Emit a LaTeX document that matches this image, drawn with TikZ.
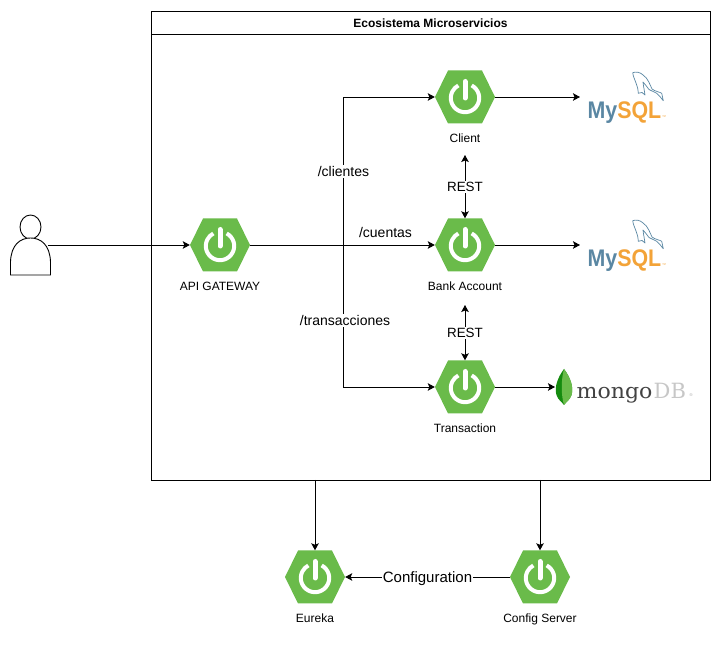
\documentclass[tikz,border=0pt]{standalone}
\usepackage{fontspec}
\setmainfont{Liberation Sans}
\newfontfamily\mongofont{DejaVu Serif}
\usetikzlibrary{arrows.meta,shapes.geometric}
\definecolor{springgreen}{HTML}{6ABB4A}
\definecolor{mysqlblue}{HTML}{5A87A3}
\definecolor{mysqlorange}{HTML}{F3A338}
\tikzset{
  x=1pt,y=1pt,
  conn/.style={draw=black,line width=0.9pt,-{Stealth[length=7pt,width=7.5pt,inset=1.5pt]}},
  biconn/.style={draw=black,line width=0.9pt,{Stealth[length=7pt,width=7.5pt,inset=1.5pt]}-{Stealth[length=7pt,width=7.5pt,inset=1.5pt]}},
  plain/.style={draw=black,line width=0.9pt},
  springbox/.style={rectangle,minimum width=60pt,minimum height=53pt,inner sep=0pt},
  lbl/.style={font=\fontsize{12}{14}\selectfont,anchor=base,inner sep=1pt},
  edgelbl/.style={font=\fontsize{14}{16}\selectfont,fill=white,inner sep=1pt},
  edgelblclear/.style={font=\fontsize{14}{16}\selectfont,inner sep=1pt},
  restlbl/.style={font=\fontsize{13.4}{15}\selectfont,fill=white,inner sep=1pt},
}
% name, x, y, label
\newcommand{\springnode}[4]{%
  \node[springbox] (#1) at (#2,#3) {};
  \fill[springgreen] (#2-30,#3) -- (#2-17,#3+26.5) -- (#2+17,#3+26.5) -- (#2+30,#3) -- (#2+17,#3-26.5) -- (#2-17,#3-26.5) -- cycle;
  \draw[white,line width=4pt] ([shift={(62:14.2pt)}]#2,#3-1) arc[start angle=62,end angle=-242,radius=14.2pt];
  \draw[white,line width=5pt,line cap=round] (#2,#3+15.5) -- (#2,#3-1);
  \node[lbl] (#1-lbl) at (#2,#3-46) {#4};
}
% logo macros: x,y is the arrow end
\newcommand{\mysqllogo}[2]{%
  \begin{scope}[shift={(#1,#2)}]
    \draw[mysqlblue,line width=0.7pt,line join=round,fill=white]
      (52.7,24.3) .. controls (56,25.5) and (60,25) .. (63,22)
      .. controls (68,19) and (70,12) .. (72,8)
      .. controls (75,5.5) and (80,5) .. (81.7,3.7)
      -- (83.3,-3.7) .. controls (81,-1) and (79,2) .. (76.7,3.7)
      .. controls (74,5.5) and (71,6) .. (69,7.5)
      .. controls (67,10) and (65,13) .. (63,15)
      .. controls (63.5,10) and (64.5,6) .. (65,2)
      -- (62,4.5) -- (58.3,3.7) .. controls (58,8) and (57.5,10) .. (56.7,12)
      .. controls (55,17) and (53,21) .. (52.7,24.3) -- cycle;
    \node[anchor=base west,inner sep=0pt,font=\bfseries\fontsize{24}{26}\selectfont,xscale=0.89] at (7.5,-22)
      {\textcolor{mysqlblue}{My}\textcolor{mysqlorange}{SQL}};
    \node[anchor=base west,inner sep=0pt,font=\fontsize{4}{4}\selectfont,text=mysqlorange] at (82,-22) {™};
  \end{scope}}
\begin{document}
\begin{tikzpicture}
\useasboundingbox (0,0) rectangle (721,645);
\fill[white] (0,0) rectangle (721,645);

% container
\node[draw=black,line width=0.9pt,minimum width=559pt,minimum height=469pt,inner sep=0pt] (eco) at (430.5,399.5) {};
\coordinate (titleL) at (151,611);
\coordinate (titleR) at (710,611);
\draw[plain] (titleL) -- (titleR);
\node[font=\bfseries\fontsize{12}{14}\selectfont,inner sep=0pt] (ecotitle) at (430.5,622) {Ecosistema Microservicios};

% user
\node[draw=black,line width=0.9pt,ellipse,minimum width=21pt,minimum height=24pt,inner sep=0pt] (userhead) at (30.5,418) {};
\draw[plain,fill=white] (10.5,370) -- (10.5,383) .. controls (11,400) and (20,407) .. (30.5,407)
  .. controls (41,407) and (50,400) .. (50.5,383) -- (50.5,370) -- cycle;
\coordinate (user) at (48,400);

% spring nodes
\springnode{api}{220}{400}{API GATEWAY}
\springnode{client}{465}{548}{Client}
\springnode{bank}{465}{400}{Bank Account}
\springnode{trans}{465}{258}{Transaction}
\springnode{eureka}{315}{68}{Eureka}
\springnode{config}{540}{68}{Config Server}

% logos
\coordinate (mysqlA) at (580,548);
\coordinate (mysqlB) at (580,400);
\coordinate (mongo) at (555,258);
\mysqllogo{580}{548}
\mysqllogo{580}{400}
\fill[green!50!black!80!springgreen] (564,276) .. controls (570,268) and (574,258) .. (571.5,250)
  .. controls (570,245) and (566,243) .. (564,240)
  .. controls (562,243) and (558,245) .. (556.5,250)
  .. controls (554,258) and (558,268) .. (564,276) -- cycle;
\fill[springgreen] (564,276) .. controls (570,268) and (574,258) .. (571.5,250)
  .. controls (570,245) and (566,243) .. (564,240)
  .. controls (561,250) and (561,265) .. (564,276) -- cycle;
\node[anchor=base west,inner sep=0pt,font=\mongofont\fontsize{21}{23}\selectfont,text=black!74,xscale=1.05] (mongotext) at (576.5,246) {mongo};
\node[anchor=base west,inner sep=0pt,font=\mongofont\fontsize{21}{23}\selectfont,text=black!22] (dbtext) at (653.5,246) {DB};
\node[anchor=base west,inner sep=0pt,font=\fontsize{4}{4}\selectfont,text=black!35] (mongoreg) at (689.5,248) {®};

% connectors
\coordinate (branch) at (343,400);
\coordinate (clientREST) at (465,490);
\coordinate (bankRESTd) at (465,340);
\draw[conn] (user) -- (api);
\draw[conn] (api) -- (bank);
\draw[conn] (branch) |- (client);
\draw[conn] (branch) |- (trans);
\draw[conn] (client) -- (mysqlA);
\draw[conn] (bank) -- (mysqlB);
\draw[conn] (trans) -- (mongo);
\draw[biconn] (clientREST) -- (bank);
\draw[biconn] (bankRESTd) -- (trans);
\coordinate (ecoE) at (315,165);
\coordinate (ecoC) at (540,165);
\draw[conn] (ecoE) -- (eureka);
\draw[conn] (ecoC) -- (config);
\draw[conn] (config) -- node[edgelbl,font=\fontsize{15}{17}\selectfont,yshift=-1.5pt] (cfglbl) {Configuration} (eureka);

% labels
\node[edgelbl] (clientes) at (343.5,473.5) {/clientes};
\node[edgelblclear] (cuentas) at (385.5,412) {/cuentas};
\node[edgelbl] (transacc) at (345,324.5) {/transacciones};
\node[restlbl] (rest1) at (465,458) {REST};
\node[restlbl] (rest2) at (465,312) {REST};
\end{tikzpicture}
\end{document}
